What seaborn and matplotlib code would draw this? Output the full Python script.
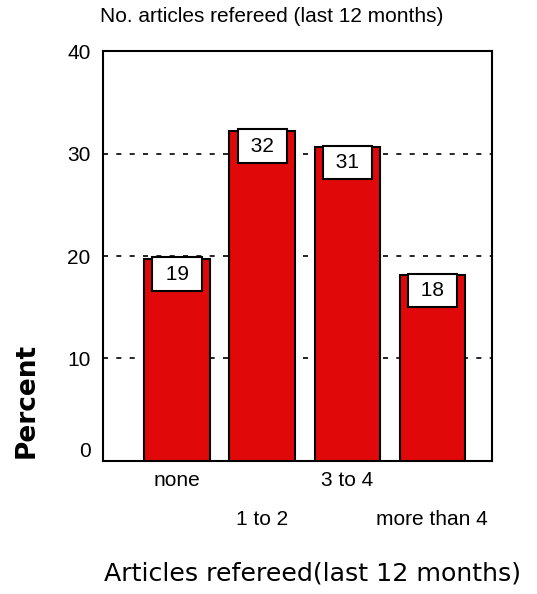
import matplotlib

matplotlib.use("Agg")
import matplotlib.pyplot as plt
import pandas as pd
import seaborn as sns

categories = ["none", "1 to 2", "3 to 4", "more than 4"]
percent = [19.7, 32.2, 30.6, 18.1]
bar_labels = ["19", "32", "31", "18"]

df = pd.DataFrame({"category": categories, "percent": percent})

sns.set_theme(style="white")
plt.rcParams["font.family"] = ["Liberation Sans", "DejaVu Sans"]
plt.rcParams["text.color"] = "black"

fig = plt.figure(figsize=(5.37, 5.94), dpi=100)
ax = fig.add_axes([0.192, 0.224, 0.724, 0.690])

sns.barplot(
    data=df,
    x="category",
    y="percent",
    color="#e00808",
    saturation=1,
    edgecolor="black",
    linewidth=1.5,
    width=0.77,
    ax=ax,
    zorder=3,
)

ax.set_ylim(0, 40)
ax.set_xlim(-0.87, 3.7)
ax.set_yticks([0, 10, 20, 30, 40])
for y in [10, 20, 30]:
    ax.axhline(y, color="black", linewidth=1.2, linestyle=(0, (3, 5)), zorder=1)

# value boxes sit on top of each bar
for i, (v, lab) in enumerate(zip(percent, bar_labels)):
    ax.text(
        i, v - 0.55, f" {lab} ", ha="center", va="top", fontsize=15, zorder=5,
        bbox=dict(boxstyle="square,pad=0.35", facecolor="white",
                  edgecolor="black", linewidth=1.5),
    )

for spine in ax.spines.values():
    spine.set_color("black")
    spine.set_linewidth(1.5)

ax.tick_params(axis="both", length=0, labelsize=15, colors="black")
ax.tick_params(axis="y", pad=9)
ax.get_yticklabels()[0].set_verticalalignment("bottom")
for k, tick in enumerate(ax.xaxis.get_major_ticks()):
    tick.set_pad(7 if k % 2 == 0 else 35)

ax.set_xlabel("")
ax.set_ylabel("")
fig.text(100 / 537, 1 - 17 / 594, "No. articles refereed (last 12 months)",
         fontsize=15, ha="left", va="center")
fig.text(27 / 537, 1 - 400 / 594, "Percent", fontsize=19, fontweight="bold",
         rotation=90, ha="center", va="center", family="DejaVu Sans")
fig.text(104 / 537, 1 - 573 / 594, "Articles refereed(last 12 months)",
         fontsize=18.2, ha="left", va="center", family="DejaVu Sans")

fig.savefig("out.png", dpi=100)
